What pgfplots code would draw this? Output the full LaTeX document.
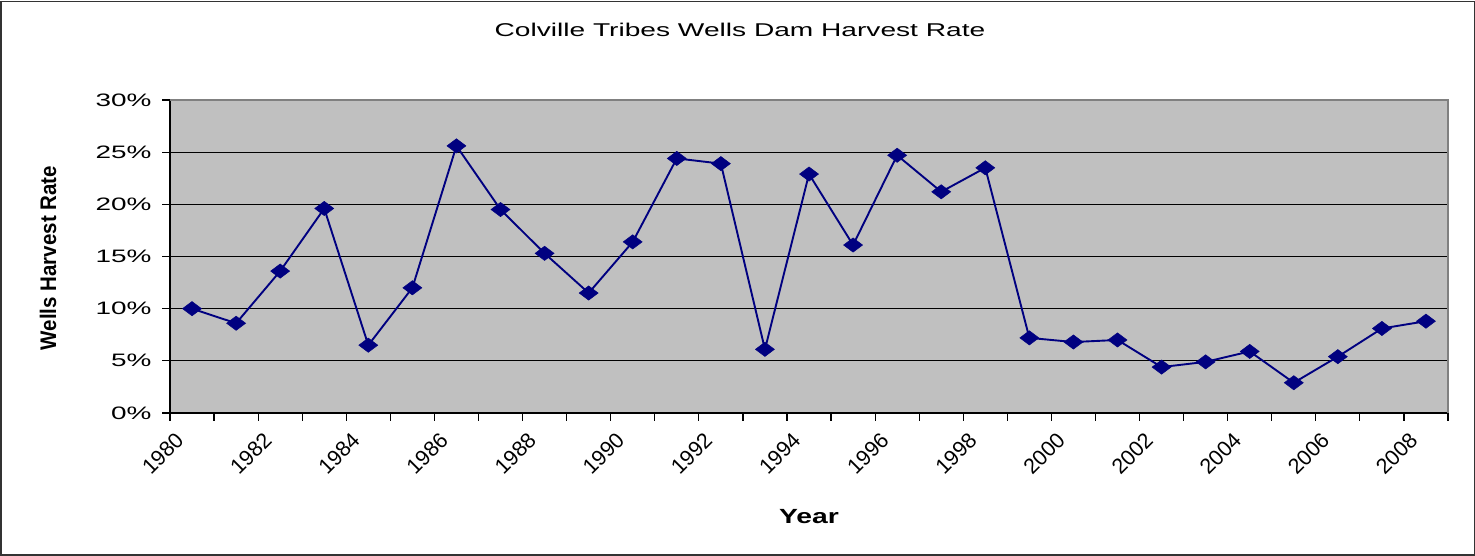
\documentclass[border=0pt]{standalone}
\usepackage{pgfplots}
\pgfplotsset{compat=1.18}
\usepackage{fontspec}
\setmainfont{Liberation Sans}
\usetikzlibrary{plotmarks}
\definecolor{navyline}{HTML}{000080}
\definecolor{plotbg}{HTML}{C0C0C0}
\definecolor{framegray}{HTML}{808080}
\newcommand{\hs}[2][1.55]{\scalebox{#1}[1]{#2}}
\begin{document}
\begin{tikzpicture}[x=1bp,y=1bp]
\draw[use as bounding box, draw=none] (0,0) rectangle (1475,556);
\draw[line width=1.5bp, black!80] (0.75,0.75) rectangle (1474.25,554.5);
\node[font=\fontsize{18.5bp}{20bp}\selectfont] at (740,526) {\hs[1.52]{Colville Tribes Wells Dam Harvest Rate}};
\node[font=\fontsize{20.5bp}{22bp}\selectfont\bfseries] at (809,39) {\hs[1.38]{Year}};
\node[rotate=90, font=\fontsize{20.5bp}{22bp}\selectfont\bfseries] at (48,298) {\scalebox{1}[1.1]{Wells Harvest Rate}};
\begin{axis}[
  at={(170bp,143bp)}, anchor=south west,
  scale only axis, width=1278bp, height=313bp,
  xmin=0, xmax=29, ymin=0, ymax=30,
  axis lines*=left,
  axis line style={line width=1.5bp, black},
  axis background/.style={fill=plotbg},
  xtick={0,2,...,28},
  minor xtick={1,3,...,29},
  xticklabels={1980,1982,1984,1986,1988,1990,1992,1994,1996,1998,2000,2002,2004,2006,2008},
  ytick={0,5,...,30},
  yticklabels={\hs{0\%},\hs{5\%},\hs{10\%},\hs{15\%},\hs{20\%},\hs{25\%},\hs{30\%}},
  tick align=outside,
  major tick length=8bp, minor tick length=8bp,
  tick style={line width=1.2bp, black},
  ymajorgrids, grid style={line width=1bp, black},
  yticklabel style={font=\fontsize{18bp}{19bp}\selectfont, xshift=-7bp},
  xticklabel style={font=\fontsize{21.5bp}{23bp}\selectfont, rotate=45, anchor=north east, xshift=-3bp, yshift=-9bp, inner sep=1bp},
  clip=false,
]
\addplot[navyline, line width=1.9bp, mark=diamond*, mark size=9.5bp,
  mark options={rotate=90, solid, fill=navyline, draw=navyline, line width=0.5bp}]
  coordinates {
  (0.5,10.0) (1.5,8.6) (2.5,13.6) (3.5,19.6) (4.5,6.5) (5.5,12.0) (6.5,25.6)
  (7.5,19.5) (8.5,15.3) (9.5,11.5) (10.5,16.4) (11.5,24.4) (12.5,23.9) (13.5,6.1)
  (14.5,22.9) (15.5,16.1) (16.5,24.7) (17.5,21.2) (18.5,23.5) (19.5,7.2)
  (20.5,6.8) (21.5,7.0) (22.5,4.4) (23.5,4.9) (24.5,5.9) (25.5,2.9) (26.5,5.4)
  (27.5,8.1) (28.5,8.8)
  };
\draw[framegray, line width=2bp] (rel axis cs:0,1) -- (rel axis cs:1,1) -- (rel axis cs:1,0);
\end{axis}
\end{tikzpicture}
\end{document}
